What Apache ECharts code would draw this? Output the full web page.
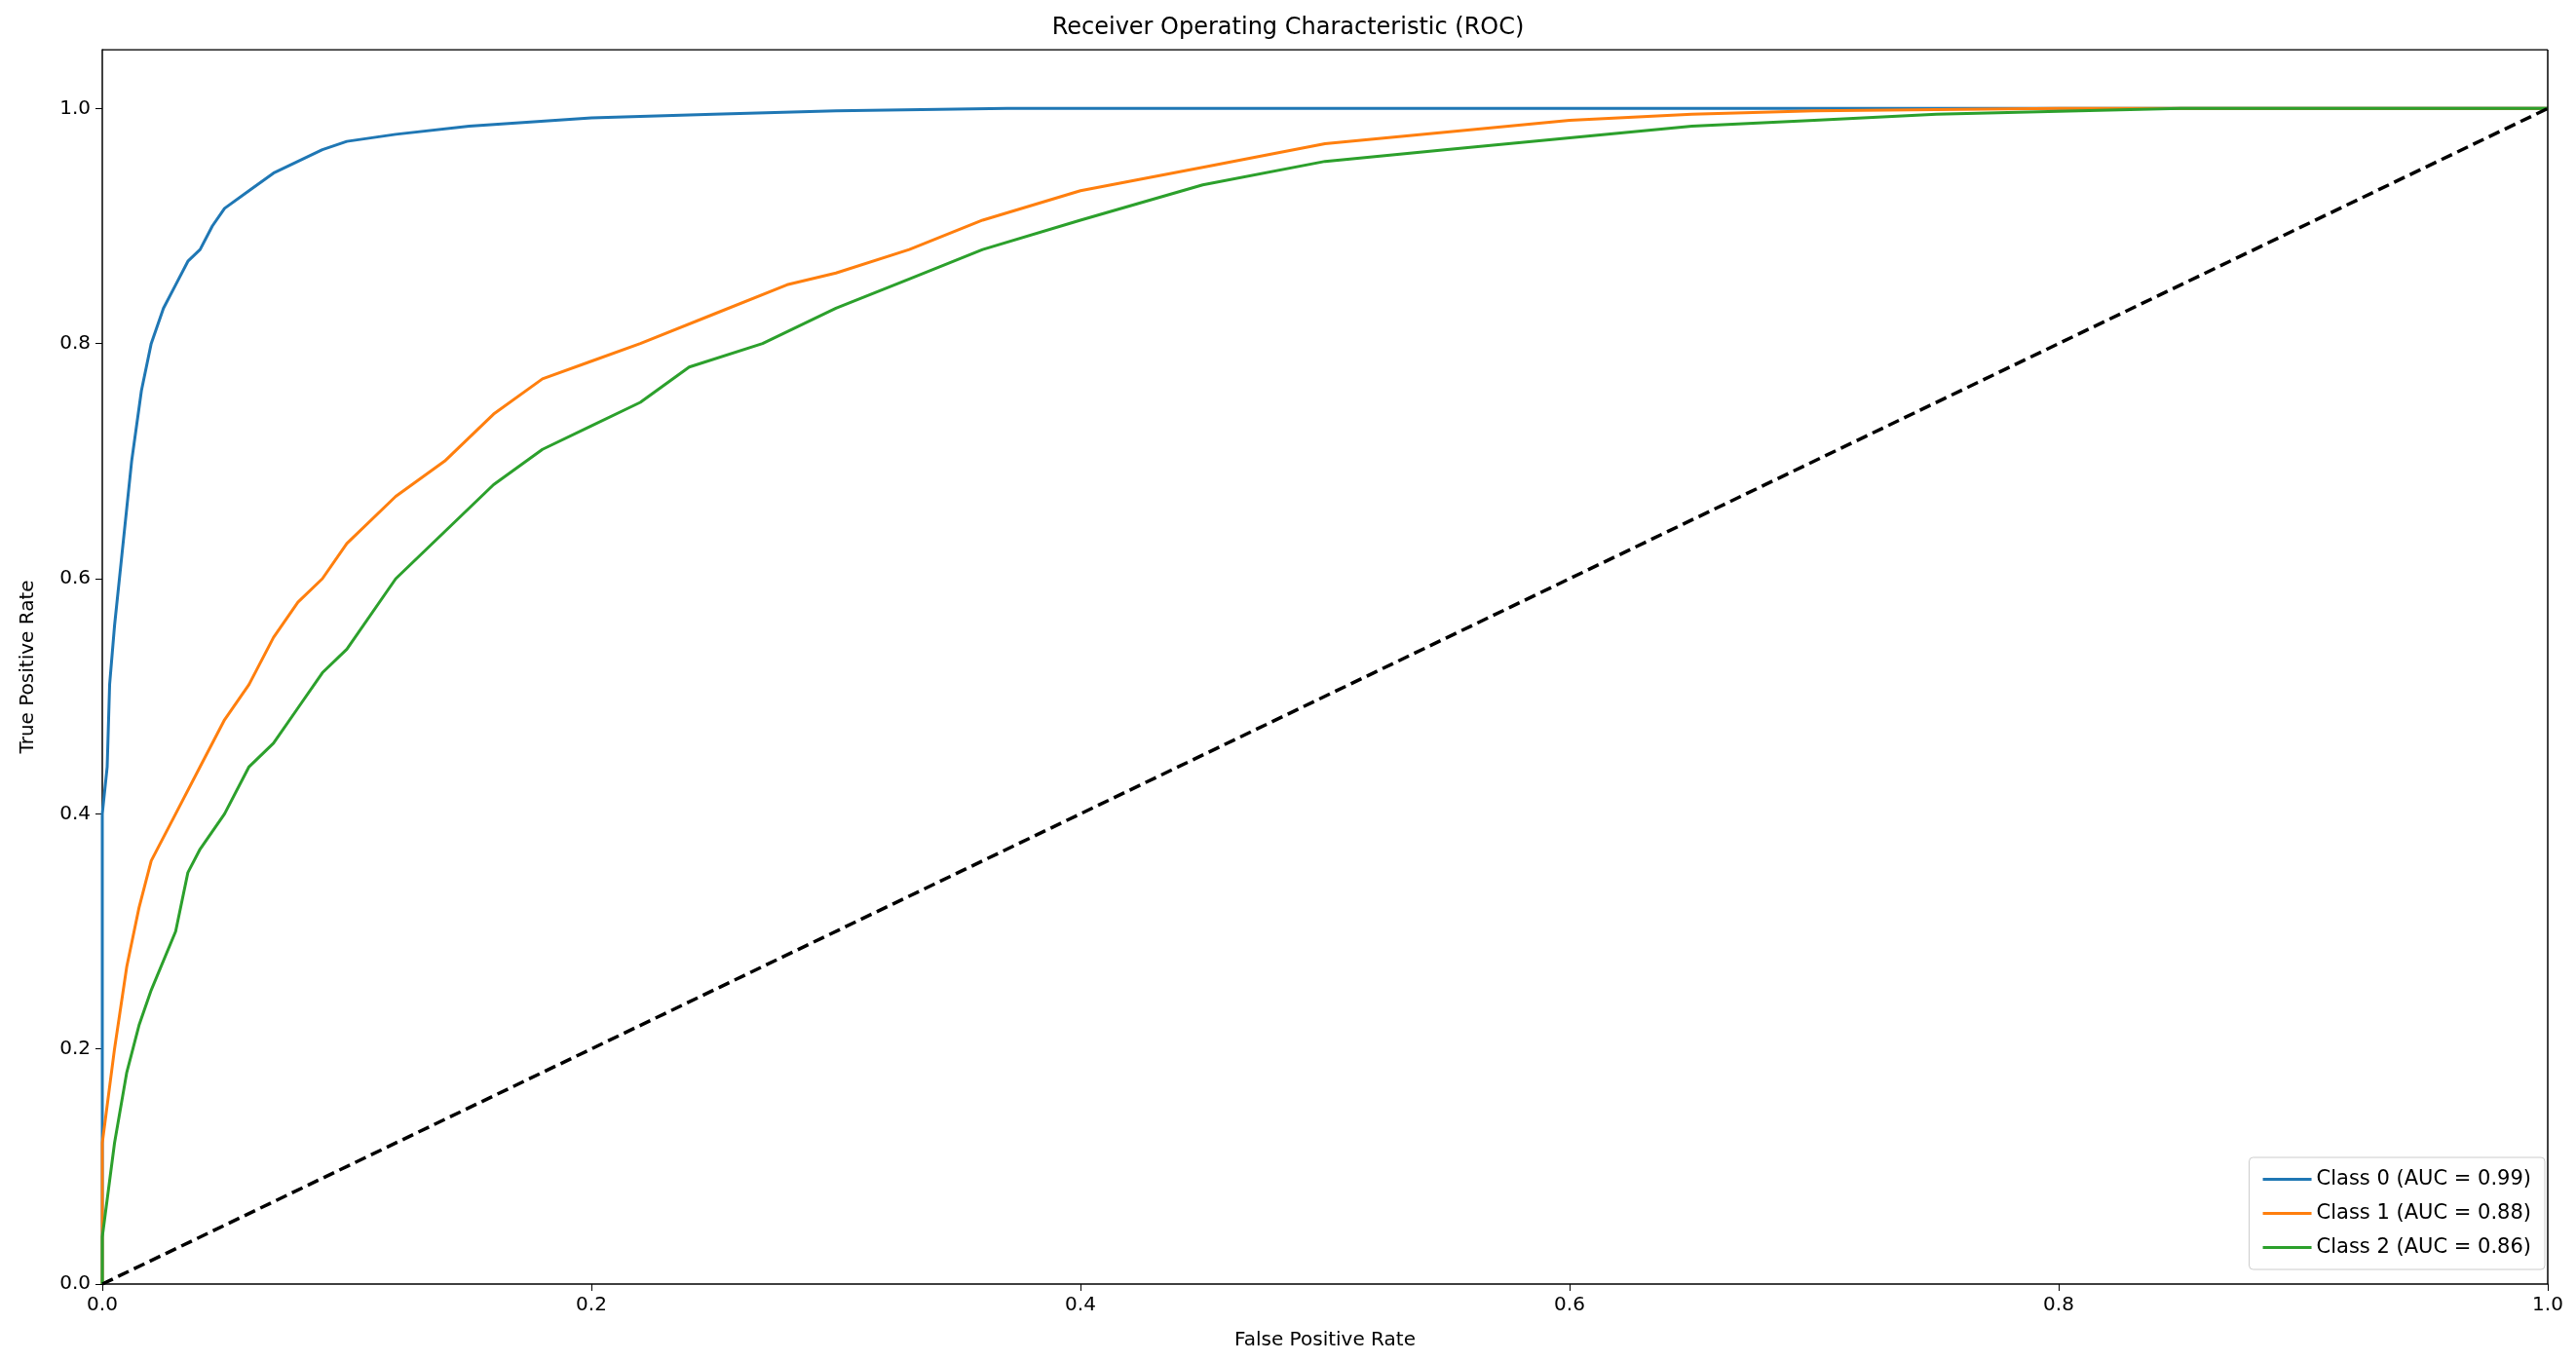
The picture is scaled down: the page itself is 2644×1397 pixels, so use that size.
<!DOCTYPE html>
<html><head><meta charset="utf-8">
<script src="https://cdn.jsdelivr.net/npm/echarts@6/dist/echarts.min.js"></script>
<style>html,body{margin:0;background:#fff}#c{width:2644px;height:1397px}</style>
</head><body><div id="c"></div>
<script>
// ROC points: [fpr, tpr]
var class0 = [[0,0],[0,0.40],[0.002,0.44],[0.003,0.51],[0.005,0.56],[0.008,0.62],[0.012,0.70],[0.016,0.76],[0.02,0.80],[0.025,0.83],[0.03,0.85],[0.035,0.87],[0.04,0.88],[0.045,0.90],[0.05,0.915],[0.06,0.93],[0.07,0.945],[0.08,0.955],[0.09,0.965],[0.1,0.972],[0.12,0.978],[0.15,0.985],[0.2,0.992],[0.25,0.995],[0.3,0.998],[0.37,1.0],[1,1]];
var class1 = [[0,0],[0,0.12],[0.005,0.2],[0.01,0.27],[0.015,0.32],[0.02,0.36],[0.03,0.40],[0.04,0.44],[0.05,0.48],[0.06,0.51],[0.07,0.55],[0.08,0.58],[0.09,0.60],[0.1,0.63],[0.12,0.67],[0.14,0.70],[0.16,0.74],[0.18,0.77],[0.2,0.785],[0.22,0.80],[0.25,0.825],[0.28,0.85],[0.3,0.86],[0.33,0.88],[0.36,0.905],[0.4,0.93],[0.45,0.95],[0.5,0.97],[0.55,0.98],[0.6,0.99],[0.65,0.995],[0.7,0.998],[0.8,1.0],[1,1]];
var class2 = [[0,0],[0,0.04],[0.005,0.12],[0.01,0.18],[0.015,0.22],[0.02,0.25],[0.03,0.30],[0.035,0.35],[0.04,0.37],[0.05,0.40],[0.06,0.44],[0.07,0.46],[0.08,0.49],[0.09,0.52],[0.1,0.54],[0.12,0.60],[0.14,0.64],[0.16,0.68],[0.18,0.71],[0.2,0.73],[0.22,0.75],[0.24,0.78],[0.27,0.80],[0.3,0.83],[0.33,0.855],[0.36,0.88],[0.4,0.905],[0.45,0.935],[0.5,0.955],[0.55,0.965],[0.6,0.975],[0.65,0.985],[0.7,0.99],[0.75,0.995],[0.85,1.0],[1,1]];
var chance = [[0,0],[1,1]];
var yTicks = [0, 0.2, 0.4, 0.6, 0.8, 1.0];
var names = ['Class 0 (AUC = 0.99)','Class 1 (AUC = 0.88)','Class 2 (AUC = 0.86)'];
var colors = ['#1f77b4','#ff7f0e','#2ca02c'];

var chart = echarts.init(document.getElementById('c'));
var font = 'DejaVu Sans';
function line(name, data, color) {
  return {name: name, type: 'line', data: data, symbol: 'none', lineStyle: {color: color, width: 3}, itemStyle: {color: color}};
}
chart.setOption({
  animation: false,
  textStyle: {fontFamily: font},
  title: {text: 'Receiver Operating Characteristic (ROC)', left: 'center', top: 12,
    textStyle: {fontSize: 24, fontWeight: 'normal', color: '#000', fontFamily: font}},
  grid: {left: 105, right: 29, top: 51, bottom: 79},
  legend: {data: names, orient: 'vertical', right: 32, bottom: 94, itemWidth: 50, itemHeight: 3,
    itemGap: 14, padding: [12, 14], borderColor: '#ccc', borderWidth: 1, borderRadius: 4,
    backgroundColor: '#fff', textStyle: {fontSize: 21, color: '#000', fontFamily: font}, icon: 'rect'},
  xAxis: {type: 'value', min: 0, max: 1, interval: 0.2, name: 'False Positive Rate', nameLocation: 'middle', nameGap: 48,
    nameTextStyle: {fontSize: 20, color: '#000'},
    axisLine: {onZero: false, lineStyle: {color: '#000', width: 1.5}}, axisTick: {show: true, length: 7, lineStyle: {color: '#000'}},
    axisLabel: {fontSize: 20, color: '#000', margin: 12, formatter: function (v) { return v.toFixed(1); }},
    splitLine: {show: false}},
  yAxis: {type: 'value', min: 0, max: 1.05, interval: 0.2, name: 'True Positive Rate', nameLocation: 'middle', nameGap: 66,
    nameTextStyle: {fontSize: 20, color: '#000'},
    axisLine: {show: true, onZero: false, lineStyle: {color: '#000', width: 1.5}},
    axisTick: {show: true, length: 7, customValues: yTicks, lineStyle: {color: '#000'}},
    axisLabel: {fontSize: 20, color: '#000', margin: 12, customValues: yTicks, formatter: function (v) { return v.toFixed(1); }},
    splitLine: {show: false}},
  series: [
    line(names[0], class0, colors[0]),
    line(names[1], class1, colors[1]),
    line(names[2], class2, colors[2]),
    {type: 'line', data: chance, symbol: 'none', lineStyle: {color: '#000', width: 3.5, type: [12, 6]}},
    {type: 'line', data: [[1,0],[1,1.05]], symbol: 'none', silent: true, lineStyle: {color: '#000', width: 1.5}},
    {type: 'line', data: [[0,1.05],[1,1.05]], symbol: 'none', silent: true, lineStyle: {color: '#000', width: 1.5}}
  ]
});
</script></body></html>
